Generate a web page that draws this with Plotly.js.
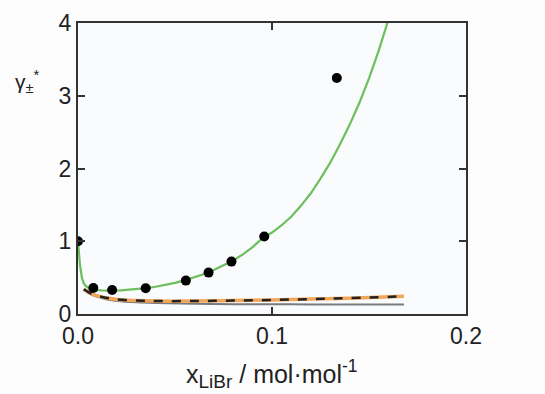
<!DOCTYPE html>
<html>
<head>
<meta charset="utf-8">
<script src="https://cdn.plot.ly/plotly-3.0.1.min.js"></script>
<style>html,body{margin:0;padding:0;background:#fdfdfd;}#chart{width:545px;height:394px;}</style>
</head>
<body>
<div id="chart"></div>
<script>
// Experimental points
var expX = [0, 0.0079, 0.0176, 0.0349, 0.0556, 0.0673, 0.0791, 0.0960, 0.1334];
var expY = [1.0, 0.358, 0.330, 0.353, 0.459, 0.569, 0.720, 1.066, 3.245];

// Green model curve
var greenX = [0, 0.001, 0.002, 0.003, 0.004, 0.005, 0.0065, 0.008, 0.010, 0.012, 0.015, 0.018, 0.022, 0.026, 0.030, 0.035, 0.040, 0.045, 0.050, 0.055, 0.060, 0.065, 0.070, 0.075, 0.080, 0.085, 0.090, 0.095, 0.100, 0.105, 0.110, 0.115, 0.120, 0.125, 0.130, 0.135, 0.140, 0.145, 0.150, 0.155, 0.160, 0.163];
var greenY = [1.0, 0.68, 0.50, 0.42, 0.385, 0.365, 0.348, 0.338, 0.330, 0.325, 0.321, 0.321, 0.325, 0.332, 0.340, 0.355, 0.375, 0.400, 0.428, 0.462, 0.505, 0.550, 0.605, 0.665, 0.735, 0.82, 0.92, 1.04, 1.12, 1.22, 1.34, 1.49, 1.66, 1.86, 2.08, 2.33, 2.60, 2.90, 3.24, 3.62, 4.03, 4.3];

// Orange model curve
var orangeX = [0.003, 0.006, 0.01, 0.015, 0.02, 0.03, 0.04, 0.06, 0.08, 0.1, 0.12, 0.14, 0.168];
var orangeY = [0.34, 0.29, 0.25, 0.22, 0.20, 0.185, 0.178, 0.178, 0.185, 0.193, 0.205, 0.218, 0.245];

// Black dashed model curve
var dashX = [0.003, 0.006, 0.01, 0.015, 0.02, 0.03, 0.04, 0.06, 0.08, 0.1, 0.12, 0.14, 0.168];
var dashY = [0.34, 0.29, 0.25, 0.22, 0.20, 0.185, 0.178, 0.178, 0.185, 0.193, 0.205, 0.218, 0.243];

// Gray model curve
var grayX = [0.003, 0.006, 0.01, 0.015, 0.02, 0.03, 0.04, 0.06, 0.08, 0.1, 0.12, 0.14, 0.168];
var grayY = [0.34, 0.28, 0.235, 0.20, 0.18, 0.16, 0.15, 0.14, 0.135, 0.133, 0.132, 0.131, 0.13];

var xTicks = [0, 0.1, 0.2];
var xTickText = ['0.0', '0.1', '0.2'];
var yTicks = [0, 1, 2, 3, 4];
var yTickText = ['0', '1', '2', '3', '4'];

var traces = [
  {x: grayX, y: grayY, mode: 'lines', line: {color: '#7a7a7a', width: 2, shape: 'spline'}},
  {x: orangeX, y: orangeY, mode: 'lines', line: {color: '#f2a65a', width: 3.5, shape: 'spline'}},
  {x: dashX, y: dashY, mode: 'lines', line: {color: '#222', width: 2.5, dash: '9px,9px', shape: 'spline'}},
  {x: greenX, y: greenY, mode: 'lines', line: {color: '#6cbf5c', width: 2.2, shape: 'linear'}},
  {x: expX, y: expY, mode: 'markers', marker: {color: '#000', size: 10}}
];

var font = {family: 'Arial, "Liberation Sans", sans-serif', color: '#222'};

var layout = {
  width: 545, height: 394,
  margin: {l: 78, r: 79, t: 23, b: 80},
  paper_bgcolor: '#fdfdfd',
  plot_bgcolor: '#f9fbfd',
  showlegend: false,
  font: font,
  xaxis: {
    range: [0, 0.2], tickvals: xTicks, ticktext: xTickText,
    ticks: 'inside', ticklen: 7, tickwidth: 2, tickcolor: '#333',
    showline: true, linecolor: '#333', linewidth: 2, mirror: 'ticks',
    showgrid: false, zeroline: false,
    tickfont: {size: 23, family: font.family, color: '#222'}
  },
  yaxis: {
    range: [0, 4], tickvals: yTicks, ticktext: yTickText,
    ticks: 'inside', ticklen: 7, tickwidth: 2, tickcolor: '#333',
    showline: true, linecolor: '#333', linewidth: 2, mirror: 'ticks',
    showgrid: false, zeroline: false,
    tickfont: {size: 23, family: font.family, color: '#222'}
  },
  annotations: [
    {text: 'x<sub><span style="font-size:19px">LiBr</span></sub> / mol·mol<sup>-1</sup>', xref: 'paper', yref: 'paper',
     x: 0.5, y: -0.138, xanchor: 'center', yanchor: 'top', showarrow: false,
     font: {size: 25, family: font.family, color: '#222'}},
    {text: 'γ<sub>±</sub><sup>*</sup>', xref: 'paper', yref: 'paper',
     x: -0.13, y: 0.80, xanchor: 'center', yanchor: 'middle', showarrow: false,
     font: {size: 21, family: font.family, color: '#222'}}
  ]
};

Plotly.newPlot('chart', traces, layout, {displayModeBar: false, staticPlot: true});
</script>
</body>
</html>
